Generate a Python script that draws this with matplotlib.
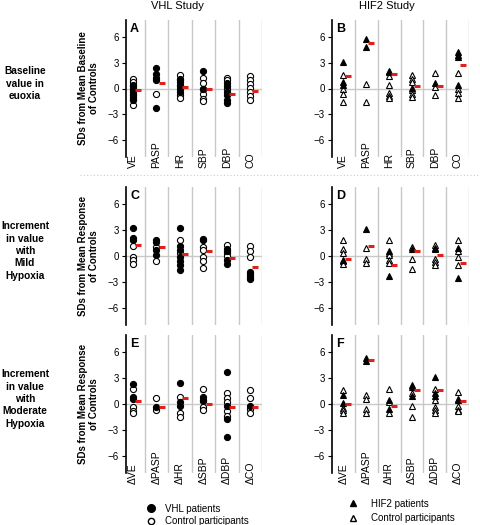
import numpy as np
import matplotlib.pyplot as plt
from matplotlib.lines import Line2D

plt.rcParams['font.family'] = ['Liberation Sans', 'DejaVu Sans']

variables = ['VE', 'PASP', 'HR', 'SBP', 'DBP', 'CO']
delta_variables = ['\u0394' + v for v in variables]
row_titles = ['Baseline\nvalue in\neuoxia',
              'Increment\nin value\nwith\nMild\nHypoxia',
              'Increment\nin value\nwith\nModerate\nHypoxia']
panel_letters = ['A', 'B', 'C', 'D', 'E', 'F']

# VHL study, baseline (A)
vhl_base_pat = [[0.4, 0.0, -0.4, -0.8, -1.2, -1.4], [2.4, 1.7, 1.2, 1.05, -2.3],
                [1.15, 0.75, 0.4, 0.0, -0.4], [2.1, 0.0],
                [0.65, 0.3, -0.4, -0.8, -1.3, -1.7], []]
vhl_base_ctl = [[1.1, 0.75, 0.3, -0.2, -0.6, -1.0, -1.9], [-0.6],
                [1.6, 1.0, 0.3, -0.8, -1.15], [1.2, 0.65, 0.0, -0.6, -1.2, -1.5],
                [1.2, 0.95, 0.0], [1.5, 1.05, 0.55, 0.1, -0.4, -0.9, -1.4]]
vhl_base_mean = [-0.15, 0.65, 0.15, 0.0, -0.6, -0.3]

# HIF2 study, baseline (B)
hif_base_pat = [[3.1, 0.8, 0.45], [5.8, 4.9], [2.1, 1.95], [0.1], [0.6],
                [4.25, 3.9, 3.65, 0.45]]
hif_base_ctl = [[1.55, -0.1, -0.6, -1.55], [0.5, -1.55], [1.45, 0.45, -0.5, -0.9, -1.15],
                [1.55, 1.15, 0.8, -0.2, -0.6, -1.0], [1.8, 0.15, -0.8],
                [1.8, 0.0, -0.5, -1.15]]
hif_base_mean = [1.45, 5.3, 1.75, 0.35, 0.35, 2.75]

# VHL study, mild hypoxia (C)
vhl_mild_pat = [[3.2, 2.1, 1.85], [1.85, 1.6, 0.7, 0.15],
                [3.3, 1.2, 0.7, -0.15, -0.6, -1.0, -1.65], [2.0, 1.8],
                [0.8, 0.55, -0.45, -0.95], [-1.9, -2.1, -2.3, -2.5, -2.65]]
vhl_mild_ctl = [[1.2, -0.1, -0.45, -0.95], [1.0, -0.55], [1.8, 0.3],
                [1.1, 0.7, -0.1, -0.55, -1.4], [1.3, 0.3, 0.05], [1.2, 0.55, -0.15]]
vhl_mild_mean = [1.3, 1.1, 0.2, 0.55, -0.2, -1.3]

# HIF2 study, mild hypoxia (D)
hif_mild_pat = [[-0.5], [3.1], [0.55, -2.3], [0.8], [0.95, 0.8], [0.95, -2.55]]
hif_mild_ctl = [[1.8, 0.8, 0.4, -0.6, -0.9], [0.95, -0.3, -0.8],
                [1.8, 0.4, 0.15, -0.5, -0.8], [1.05, -0.4, -1.55],
                [1.3, -0.3, -0.7, -1.1], [1.8, 0.55, -0.1, -1.0]]
hif_mild_mean = [-0.3, 1.15, -1.0, 0.55, 0.15, -0.8]

# VHL study, moderate hypoxia (E)
vhl_mod_pat = [[2.3, 0.8, 0.6], [-0.4], [2.45, 0.2, -0.2], [0.8, 0.45],
               [3.7, -0.2, -1.75, -3.8], [-0.2]]
vhl_mod_ctl = [[1.7, -0.4, -0.8, -1.0], [0.7, -0.7], [0.85, -1.1, -1.55],
               [1.7, 0.3, -0.3, -0.7], [1.25, 0.7, 0.2, -0.8, -1.35],
               [1.6, 0.7, -0.6, -1.0]]
vhl_mod_mean = [0.4, -0.4, 0.7, 0.0, -0.3, -0.3]

# HIF2 study, moderate hypoxia (F)
hif_mod_pat = [[1.0, 0.1], [5.35, 5.0], [0.5, -0.6], [2.25, 2.0, 0.95],
               [3.1, 1.3, 0.95], [0.6, 0.45]]
hif_mod_ctl = [[1.65, -0.45, -0.75, -1.05], [1.1, 0.6, -0.6, -1.05], [1.75, 0.2, -1.1],
               [1.3, -0.25, -1.5], [1.75, 0.5, -0.3, -0.65, -1.05],
               [1.35, -0.25, -0.65, -0.85]]
hif_mod_mean = [-0.05, 5.15, -0.2, 1.65, 1.6, 0.3]

panels = [(vhl_base_pat, vhl_base_ctl, vhl_base_mean),
          (hif_base_pat, hif_base_ctl, hif_base_mean),
          (vhl_mild_pat, vhl_mild_ctl, vhl_mild_mean),
          (hif_mild_pat, hif_mild_ctl, hif_mild_mean),
          (vhl_mod_pat, vhl_mod_ctl, vhl_mod_mean),
          (hif_mod_pat, hif_mod_ctl, hif_mod_mean)]

W, H = 480, 525
fig = plt.figure(figsize=(4.8, 5.25), dpi=100)

col_x = [(126, 262), (332, 469)]
row_y = [(20, 157), (187, 325), (335, 473)]
grid_c = '#c8c8c8'

for i, (pat, ctl, mean) in enumerate(panels):
    r, c = divmod(i, 2)
    x0, x1 = col_x[c]
    y0, y1 = row_y[r]
    ax = fig.add_axes([x0 / W, 1 - y1 / H, (x1 - x0) / W, (y1 - y0) / H])
    marker = 'o' if c == 0 else '^'
    ms = 4.4 if c == 0 else 4.2
    xs = np.arange(1, 7)
    for k in range(6):
        ax.plot([xs[k]] * len(ctl[k]), ctl[k], marker, ms=ms, mfc='white', mec='black',
                mew=0.8, ls='none', zorder=3)
        ax.plot([xs[k]] * len(pat[k]), pat[k], marker, ms=ms, mfc='black', mec='black',
                mew=0.8, ls='none', zorder=4)
    ax.plot(xs + 0.22, mean, '_', ms=4.5, mew=2.2, color='#e0201b', ls='none', zorder=5)

    for gx in np.arange(1.5, 7, 1):
        ax.axvline(gx, color=grid_c, lw=1, zorder=1)
    ax.axhline(0, color=grid_c, lw=1, zorder=1)

    ax.set_xlim(0.7 if c == 0 else 0.5, 6.5)
    ax.set_ylim(-8, 8)
    ax.set_yticks([-6, -3, 0, 3, 6])
    ax.tick_params(axis='y', labelsize=7, length=3, width=0.8, pad=2)
    ax.set_xticks([])
    for s in ['top', 'right', 'bottom']:
        ax.spines[s].set_visible(False)
    ax.spines['left'].set_linewidth(1.2)
    ax.text(0.03, 0.98, panel_letters[i], transform=ax.transAxes, fontsize=9,
            fontweight='bold', va='top', ha='left')

    if r != 1:
        labels = variables if r == 0 else delta_variables
        for k in range(6):
            ax.text(xs[k], -0.08, labels[k], rotation=90, fontsize=7.5,
                    ha='center', va='bottom',
                    transform=ax.get_xaxis_transform())

    if c == 0:
        ylab = ('SDs from Mean Baseline\nof Controls' if r == 0
                else 'SDs from Mean Response\nof Controls')
        ax.set_ylabel(ylab, fontsize=7, fontweight='bold', linespacing=1.1)
        ax.yaxis.set_label_coords(-0.2, 0.5)
        fig.text(25 / W, 1 - ((y0 + y1) / 2 - 5) / H, row_titles[r], fontsize=7.3,
                 fontweight='bold', ha='center', va='center', linespacing=1.3)

fig.text(177 / W, 1 - 6 / H, 'VHL Study', fontsize=8, ha='center', va='center')
fig.text(387 / W, 1 - 6 / H, 'HIF2 Study', fontsize=8, ha='center', va='center')

fig.add_artist(Line2D([80 / W, 1], [1 - 175 / H] * 2, color='#cccccc', lw=0.8,
                      ls=(0, (1, 2))))

leg_vhl = [Line2D([], [], marker='o', ms=5.5, mfc='black', mec='black', ls='none'),
           Line2D([], [], marker='o', ms=4.5, mfc='white', mec='black', ls='none')]
leg_hif = [Line2D([], [], marker='^', ms=4.5, mfc='black', mec='black', ls='none'),
           Line2D([], [], marker='^', ms=4.5, mfc='white', mec='black', ls='none')]
fig.legend(leg_vhl, ['VHL patients', 'Control participants'], loc='upper left',
           bbox_to_anchor=(140 / W, 1 - 499 / H), frameon=False, fontsize=7,
           handletextpad=0.9, labelspacing=0.25, borderpad=0, handlelength=1.2)
fig.legend(leg_hif, ['HIF2 patients', 'Control participants'], loc='upper left',
           bbox_to_anchor=(342 / W, 1 - 494 / H), frameon=False, fontsize=7,
           handletextpad=1.3, labelspacing=0.45, borderpad=0, handlelength=1.2)

fig.savefig('out.png', dpi=100)
